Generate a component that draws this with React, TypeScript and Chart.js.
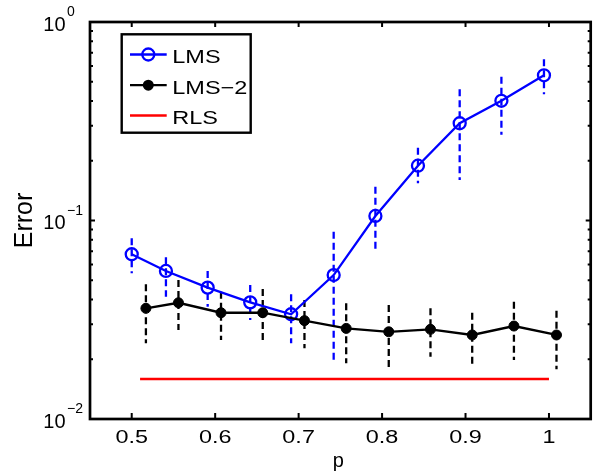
import React, { useEffect, useRef } from "react";
import { Chart, registerables } from "chart.js";

Chart.register(...registerables);

// ---- data ----
const lmsP = [0.5, 0.541, 0.591, 0.642, 0.691, 0.742, 0.792, 0.843, 0.893, 0.943, 0.994];
const lmsErr = [0.0676, 0.0557, 0.0459, 0.0387, 0.0337, 0.0531, 0.1054, 0.1888, 0.309, 0.401, 0.539];
const lmsHi = [0.0813, 0.0653, 0.0557, 0.0473, 0.0425, 0.0878, 0.148, 0.2327, 0.458, 0.53, 0.649];
const lmsLo = [0.0542, 0.0413, 0.0368, 0.0315, 0.0241, 0.0191, 0.0697, 0.154, 0.16, 0.27, 0.432];

const lms2P = [0.517, 0.556, 0.607, 0.657, 0.707, 0.757, 0.808, 0.858, 0.908, 0.958, 1.009];
const lms2Err = [0.0361, 0.0385, 0.0343, 0.0343, 0.0313, 0.0286, 0.0275, 0.0283, 0.0265, 0.0294, 0.0265];
const lms2Hi = [0.0477, 0.0502, 0.0438, 0.0452, 0.0398, 0.0383, 0.0375, 0.0361, 0.0343, 0.039, 0.0351];
const lms2Lo = [0.0241, 0.0281, 0.025, 0.025, 0.0227, 0.0191, 0.018, 0.0206, 0.0189, 0.0198, 0.0178];

const rlsP = [0.51, 1.0];
const rlsErr = [0.0159, 0.0159];

const xTicks = [0.5, 0.6, 0.7, 0.8, 0.9, 1.0];
const xTickLabels = ["0.5", "0.6", "0.7", "0.8", "0.9", "1"];
const yTicks = [0.01, 0.1, 1];
const yTickExps = ["\u22122", "\u22121", "0"];
const seriesNames = ["LMS", "LMS\u22122", "RLS"];
const xTitle = "p";
const yTitle = "Error";

const BLUE = "#0000ff";
const BLACK = "#000000";
const RED = "#ff0000";
const FONT = '"Liberation Sans", Arial, Helvetica, sans-serif';

function toPoints(xs: number[], ys: number[]) {
  return xs.map((x, i) => ({ x, y: ys[i] }));
}

function barPoints(xs: number[], hi: number[], lo: number[]) {
  const out: { x: number; y: number | null }[] = [];
  xs.forEach((x, i) => {
    out.push({ x, y: hi[i] }, { x, y: lo[i] }, { x, y: null });
  });
  return out;
}

function drawStretched(
  ctx: CanvasRenderingContext2D,
  text: string,
  x: number,
  y: number,
  font: string,
  sx: number,
  align: "left" | "center" | "right"
) {
  ctx.save();
  ctx.font = font;
  ctx.textBaseline = "alphabetic";
  ctx.textAlign = "left";
  const w = ctx.measureText(text).width * sx;
  let left = x;
  if (align === "center") left = x - w / 2;
  else if (align === "right") left = x - w;
  ctx.translate(left, y);
  ctx.scale(sx, 1);
  ctx.fillStyle = "#000";
  ctx.fillText(text, 0, 0);
  ctx.restore();
}

const decorPlugin = {
  id: "matlabDecor",
  afterDraw(chart: any) {
    const { ctx, chartArea: a, scales } = chart;
    const xs = scales.x;
    const ys = scales.y;
    ctx.save();
    ctx.strokeStyle = "#000";
    ctx.lineWidth = 2.7;
    ctx.setLineDash([]);
    // box
    ctx.strokeRect(a.left, a.top, a.right - a.left, a.bottom - a.top);

    // x ticks (inward, bottom and top)
    ctx.lineWidth = 2;
    ctx.beginPath();
    xTicks.forEach((v) => {
      const px = xs.getPixelForValue(v);
      ctx.moveTo(px, a.bottom);
      ctx.lineTo(px, a.bottom - 6);
      ctx.moveTo(px, a.top);
      ctx.lineTo(px, a.top + 5);
    });
    // y ticks major + minor
    for (let d = -2; d < 0; d++) {
      for (let k = 1; k <= 9; k++) {
        const v = k * Math.pow(10, d);
        const py = ys.getPixelForValue(v);
        const len = k === 1 ? 5 : 3;
        ctx.moveTo(a.left, py);
        ctx.lineTo(a.left + len, py);
        ctx.moveTo(a.right, py);
        ctx.lineTo(a.right - len, py);
      }
    }
    ctx.stroke();

    // x tick labels
    xTicks.forEach((v, i) => {
      const px = xs.getPixelForValue(v);
      drawStretched(ctx, xTickLabels[i], px, a.bottom + 24, `18px ${FONT}`, 1.3, "center");
    });

    // y tick labels 10^n
    yTicks.forEach((v, i) => {
      const py = ys.getPixelForValue(v);
      ctx.fillStyle = "#000";
      ctx.textAlign = "left";
      ctx.textBaseline = "alphabetic";
      ctx.font = `20px ${FONT}`;
      ctx.fillText("10", 43.3, py + 8.5);
      const w = ctx.measureText("10").width;
      ctx.font = `14px ${FONT}`;
      ctx.fillText(yTickExps[i], 43.3 + w + 1.5, py - 6);
    });

    // axis titles
    drawStretched(ctx, xTitle, (a.left + a.right) / 2 - 2, 467, `20px ${FONT}`, 1, "center");
    ctx.save();
    ctx.translate(31.5, (a.top + a.bottom) / 2);
    ctx.rotate(-Math.PI / 2);
    ctx.font = `25px ${FONT}`;
    ctx.textAlign = "center";
    ctx.textBaseline = "alphabetic";
    ctx.fillStyle = "#000";
    ctx.fillText(yTitle, 0, 0);
    ctx.restore();

    // legend
    const lx = 121.7, ly = 34.3, lw = 129, lh = 98.4;
    ctx.fillStyle = "#fff";
    ctx.fillRect(lx, ly, lw, lh);
    ctx.strokeStyle = "#000";
    ctx.lineWidth = 2.4;
    ctx.strokeRect(lx, ly, lw, lh);
    const rows = [54.5, 85.2, 115.5];
    const colors = [BLUE, BLACK, RED];
    rows.forEach((ry, i) => {
      ctx.strokeStyle = colors[i];
      ctx.lineWidth = 2.3;
      ctx.beginPath();
      ctx.moveTo(130, ry);
      ctx.lineTo(166.7, ry);
      ctx.stroke();
      if (i === 0) {
        ctx.beginPath();
        ctx.arc(148.3, ry, 6, 0, Math.PI * 2);
        ctx.stroke();
      } else if (i === 1) {
        ctx.fillStyle = BLACK;
        ctx.beginPath();
        ctx.arc(148.3, ry, 5.5, 0, Math.PI * 2);
        ctx.fill();
      }
      drawStretched(ctx, seriesNames[i], 172.3, ry + 8.3, `18.5px ${FONT}`, 1.27, "left");
    });
    ctx.restore();
  },
};

export default function App() {
  const canvasRef = useRef<HTMLCanvasElement | null>(null);

  useEffect(() => {
    const canvas = canvasRef.current;
    if (!canvas) return;
    const chart = new Chart(canvas, {
      type: "line",
      data: {
        datasets: [
          {
            label: "LMS bars",
            data: barPoints(lmsP, lmsHi, lmsLo) as any,
            borderColor: BLUE,
            borderWidth: 2.3,
            borderDash: [7, 4],
            pointRadius: 0,
            spanGaps: false,
            fill: false,
            order: 5,
          },
          {
            label: "LMS-2 bars",
            data: barPoints(lms2P, lms2Hi, lms2Lo) as any,
            borderColor: BLACK,
            borderWidth: 2.3,
            borderDash: [7, 4],
            pointRadius: 0,
            spanGaps: false,
            fill: false,
            order: 4,
          },
          {
            label: seriesNames[0],
            data: toPoints(lmsP, lmsErr),
            borderColor: BLUE,
            borderWidth: 2.3,
            pointStyle: "circle",
            pointRadius: 6,
            pointBorderWidth: 2.3,
            pointBorderColor: BLUE,
            pointBackgroundColor: "rgba(0,0,0,0)",
            fill: false,
            order: 3,
          },
          {
            label: seriesNames[1],
            data: toPoints(lms2P, lms2Err),
            borderColor: BLACK,
            borderWidth: 2.3,
            pointStyle: "circle",
            pointRadius: 5,
            pointBorderWidth: 1,
            pointBorderColor: BLACK,
            pointBackgroundColor: BLACK,
            fill: false,
            order: 2,
          },
          {
            label: seriesNames[2],
            data: toPoints(rlsP, rlsErr),
            borderColor: RED,
            borderWidth: 2.3,
            pointRadius: 0,
            fill: false,
            order: 1,
          },
        ],
      },
      options: {
        animation: false,
        responsive: false,
        maintainAspectRatio: false,
        devicePixelRatio: 1,
        layout: { padding: { left: 90, right: 3, top: 22, bottom: 52 } },
        elements: { line: { tension: 0 } },
        scales: {
          x: { type: "linear", min: 0.45, max: 1.05, display: false },
          y: { type: "logarithmic", min: 0.01, max: 1, display: false },
        },
        plugins: {
          legend: { display: false },
          tooltip: { enabled: false },
        },
      },
      plugins: [decorPlugin],
    });
    return () => chart.destroy();
  }, []);

  return (
    <div style={{ position: "absolute", left: 0, top: 0, width: 599, height: 471, background: "#fff" }}>
      <canvas ref={canvasRef} width={599} height={471} style={{ width: 599, height: 471, display: "block" }} />
    </div>
  );
}
